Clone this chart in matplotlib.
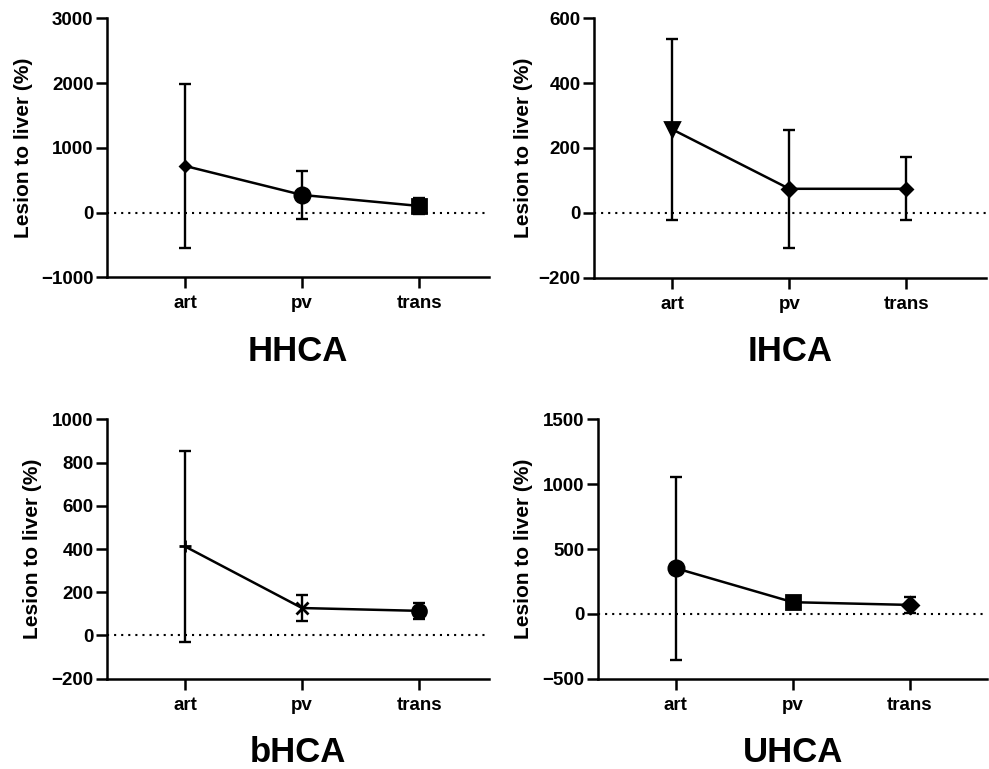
import matplotlib
matplotlib.use('Agg')
import matplotlib.pyplot as plt

plt.rcParams['font.family'] = ['Liberation Sans', 'DejaVu Sans']
plt.rcParams['font.weight'] = 'bold'

phases = ['art', 'pv', 'trans']
titles = ['HHCA', 'IHCA', 'bHCA', 'UHCA']

# mean and SD (lesion to liver, %)
hhca_mean = [720, 272, 102]
hhca_sd = [1260, 375, 120]
ihca_mean = [257, 74, 74]
ihca_sd = [278, 182, 97]
bhca_mean = [412, 127, 114]
bhca_sd = [443, 60, 37]
uhca_mean = [352, 90, 69]
uhca_sd = [705, 30, 62]

means = [hhca_mean, ihca_mean, bhca_mean, uhca_mean]
sds = [hhca_sd, ihca_sd, bhca_sd, uhca_sd]

yticks = [[-1000, 0, 1000, 2000, 3000],
          [-200, 0, 200, 400, 600],
          [-200, 0, 200, 400, 600, 800, 1000],
          [-500, 0, 500, 1000, 1500]]

markers = [['D', 'o', 's'], ['v', 'D', 'D'], ['+', 'x', 'o'], ['o', 's', 'D']]
msizes = [[5, 11, 10], [10, 7, 6], [9, 9, 10], [11, 10, 8]]

# layout (figure fractions) and x limits
boxes = [[0.1085, 0.6394, 0.386, 0.3368],
         [0.6009, 0.6389, 0.396, 0.3375],
         [0.1085, 0.1174, 0.386, 0.3373],
         [0.6050, 0.1174, 0.393, 0.3373]]
xlims = [(-0.664, 2.598), (-0.667, 2.681), (-0.664, 2.598), (-0.661, 2.657)]
ylab_x = [-0.195, -0.156, -0.171, -0.168]

fig = plt.figure(figsize=(9.89, 7.69), dpi=100)

for i in range(4):
    ax = fig.add_axes(boxes[i])
    x = list(range(len(phases)))
    ax.axhline(0, color='black', lw=1.5, linestyle=(0, (1, 2.4)), zorder=1)
    ax.errorbar(x, means[i], yerr=sds[i], color='black', lw=1.8,
                elinewidth=1.7, capsize=4, capthick=1.7, zorder=2)
    for j in range(len(phases)):
        ax.plot(x[j], means[i][j], marker=markers[i][j], ms=msizes[i][j],
                color='black', mec='black', mew=2, linestyle='none', zorder=3)
    ax.set_xlim(*xlims[i])
    ax.set_ylim(yticks[i][0], yticks[i][-1])
    ax.set_yticks(yticks[i])
    ax.set_xticks(x)
    ax.set_xticklabels(phases)
    for s in ['top', 'right']:
        ax.spines[s].set_visible(False)
    for s in ['left', 'bottom']:
        ax.spines[s].set_linewidth(1.8)
    ax.tick_params(axis='both', length=8, width=1.8, labelsize=13.5)
    ax.tick_params(axis='x', pad=5)
    ax.tick_params(axis='y', pad=2)
    ax.set_ylabel('Lesion to liver (%)', fontsize=15, fontweight='bold')
    ax.yaxis.set_label_coords(ylab_x[i], 0.5)
    ax.set_xlabel(titles[i], fontsize=25, fontweight='bold', labelpad=16)

fig.savefig('out.png', dpi=100)
